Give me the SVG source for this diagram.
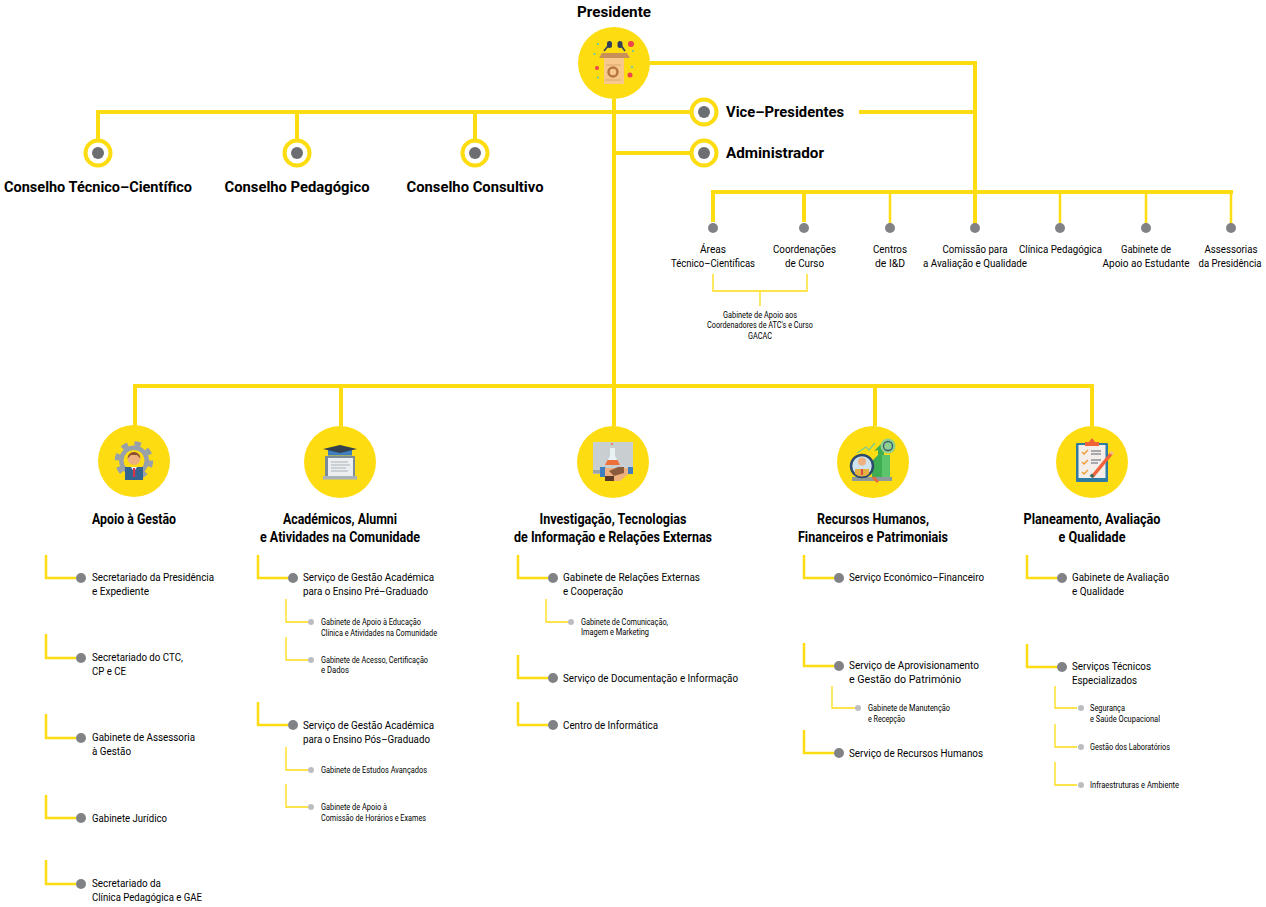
<svg xmlns="http://www.w3.org/2000/svg" width="1266" height="907" viewBox="0 0 1266 907">
<style>
text{font-family:"Roboto","Liberation Sans",sans-serif;fill:#000}
.h{font-weight:700;font-size:15.5px}
.m{font-size:11.5px}
.n{font-size:10px}
.s{font-size:8.5px}
.c{text-anchor:middle}
.y{fill:#fddc12}
.l{fill:none;stroke:#fddc12;stroke-width:4}
.t2{fill:none;stroke:#fddc12;stroke-width:2.5}
.t1{fill:none;stroke:#fddc12;stroke-width:1.3}
.d{fill:#6d6e71}
.g{fill:#808285}
.q{fill:#bcbdc0}
.r{fill:#fff;stroke:#fddc12;stroke-width:4}
</style>
<g id="connectors">
<path class="l" d="M650 63H975V192M859 112H975M98 140V112H690M297 140V112M475 140V112M614 99V386M616 153H690M713 222V192H1233M804 222V192M975 192V224M135 426V386H1092V426M341 426V386M614 386V426M875 386V426"/>
<path class="t2" d="M890 192V224M1060 192V224M1146 192V224M1231 192V224"/>
<path class="t1" d="M713 274V291H807V274M760 291V306"/>
<path class="t2" d="M46 555V578H76M46 634V658H76M46 714V738H76M46 795V818H76M46 860V884H76M258 555V578H288M258 702V725H288M518 555V578H548M518 655V678H548M518 702V725H548M804 555V578H834M804 643V666H834M804 730V753H834M1027 555V578H1057M1027 644V667H1057"/>
<path class="t1" d="M286 599V622H308M286 637V660H308M286 747V770H308M286 784V807H308M546 599V622H568M832 686V708H855M1055 686V708H1077M1055 724V747H1077M1055 762V785H1077"/>
</g>
<g id="presidente"><text class="h c" x="614" y="17" textLength="74" lengthAdjust="spacingAndGlyphs">Presidente</text><circle class="y" cx="614" cy="63" r="36"/>
<path d="M609.500 44L604 51M620 44L625 51" stroke="#2f3f5c" stroke-width="1.600" fill="none"/><rect x="607" y="41" width="5" height="7" rx="2.500" fill="#2f3f5c"/><rect x="617.500" y="41" width="5" height="7" rx="2.500" fill="#2f3f5c"/>
<path d="M602 53H627L630 58H599Z" fill="#c98f58"/><rect x="604" y="58" width="20" height="26" fill="#f6c88e"/>
<circle cx="613" cy="72" r="4.500" fill="none" stroke="#b5763f" stroke-width="2.500"/><path d="M606 65H621M605 80H621" stroke="#d9a870" stroke-width="1.200"/>
<circle cx="631" cy="44" r="3" fill="#f0414f"/><circle cx="630" cy="75" r="2.500" fill="#f0414f"/><circle cx="597" cy="68" r="2" fill="#f0414f"/>
<g fill="#4fc3c7"><circle cx="598" cy="44" r="1"/><circle cx="594.500" cy="54" r="1"/><circle cx="633" cy="51" r="1"/><circle cx="632" cy="67" r="1"/><circle cx="598" cy="77.500" r="1"/></g></g>
<g id="vice"><circle class="r" cx="704" cy="112" r="12.500"/><circle class="d" cx="704" cy="112" r="6"/><text class="h" x="726" y="117" textLength="118" lengthAdjust="spacingAndGlyphs">Vice–Presidentes</text></g>
<g id="admin"><circle class="r" cx="704" cy="153" r="12.500"/><circle class="d" cx="704" cy="153" r="6"/><text class="h" x="726" y="158" textLength="98" lengthAdjust="spacingAndGlyphs">Administrador</text></g>
<g id="ctc"><circle class="r" cx="98" cy="153" r="12.500"/><circle class="d" cx="98" cy="153" r="6"/><text class="h c" x="98" y="192" textLength="188" lengthAdjust="spacingAndGlyphs">Conselho Técnico–Científico</text></g>
<g id="cp"><circle class="r" cx="297" cy="153" r="12.500"/><circle class="d" cx="297" cy="153" r="6"/><text class="h c" x="297" y="192" textLength="145" lengthAdjust="spacingAndGlyphs">Conselho Pedagógico</text></g>
<g id="cc"><circle class="r" cx="475" cy="153" r="12.500"/><circle class="d" cx="475" cy="153" r="6"/><text class="h c" x="475" y="192" textLength="137" lengthAdjust="spacingAndGlyphs">Conselho Consultivo</text></g>
<g id="areas"><circle class="g" cx="713" cy="228" r="5"/><text class="m c" x="713" y="253" textLength="26" lengthAdjust="spacingAndGlyphs">Áreas</text><text class="m c" x="713" y="267" textLength="84" lengthAdjust="spacingAndGlyphs">Técnico–Científicas</text></g>
<g id="coord"><circle class="g" cx="804" cy="228" r="5"/><text class="m c" x="804.500" y="253" textLength="63" lengthAdjust="spacingAndGlyphs">Coordenações</text><text class="m c" x="804.500" y="267" textLength="39" lengthAdjust="spacingAndGlyphs">de Curso</text></g>
<g id="centros"><circle class="g" cx="890" cy="228" r="5"/><text class="m c" x="890" y="253" textLength="34" lengthAdjust="spacingAndGlyphs">Centros</text><text class="m c" x="890" y="267" textLength="30" lengthAdjust="spacingAndGlyphs">de I&amp;D</text></g>
<g id="comissao"><circle class="g" cx="975" cy="228" r="5"/><text class="m c" x="975" y="253" textLength="65" lengthAdjust="spacingAndGlyphs">Comissão para</text><text class="m c" x="975" y="267" textLength="104" lengthAdjust="spacingAndGlyphs">a Avaliação e Qualidade</text></g>
<g id="clinica"><circle class="g" cx="1060" cy="228" r="5"/><text class="m c" x="1060.500" y="253" textLength="83" lengthAdjust="spacingAndGlyphs">Clínica Pedagógica</text></g>
<g id="gae"><circle class="g" cx="1146" cy="228" r="5"/><text class="m c" x="1146" y="253" textLength="50" lengthAdjust="spacingAndGlyphs">Gabinete de</text><text class="m c" x="1146" y="267" textLength="87" lengthAdjust="spacingAndGlyphs">Apoio ao Estudante</text></g>
<g id="assess"><circle class="g" cx="1231" cy="228" r="5"/><text class="m c" x="1231" y="253" textLength="53" lengthAdjust="spacingAndGlyphs">Assessorias</text><text class="n c" x="1230" y="267" textLength="63" lengthAdjust="spacingAndGlyphs">da Presidência</text></g>
<g id="gacac"><text class="s c" x="760" y="318" textLength="74" lengthAdjust="spacingAndGlyphs">Gabinete de Apoio aos</text><text class="s c" x="760" y="328" textLength="106" lengthAdjust="spacingAndGlyphs">Coordenadores de ATC's e Curso</text><text class="s c" x="760" y="339" textLength="24" lengthAdjust="spacingAndGlyphs">GACAC</text></g>
<g id="apoio"><circle class="y" cx="134" cy="461" r="36"/><circle cx="134" cy="460.500" r="15" fill="#98a1ab"/><circle cx="134" cy="460.500" r="17" fill="none" stroke="#98a1ab" stroke-width="4.500" stroke-dasharray="6.500 6.850"/><circle cx="134" cy="460.500" r="10.500" fill="#fddc12"/><circle cx="134" cy="458.500" r="6.500" fill="#eeb07e"/><path d="M127.500 458.500A6.500 6.500 0 0 1 140.500 458.500L137 455H131Z" fill="#8a4f2b"/><rect x="125" y="467" width="18" height="13" fill="#34648f"/><path d="M131 467H137L134 472Z" fill="#fff"/><rect x="133" y="468" width="2.200" height="9" fill="#d9334c"/><text class="h c" x="134" y="524" textLength="84" lengthAdjust="spacingAndGlyphs">Apoio à Gestão</text></g>
<g id="academicos"><circle class="y" cx="340" cy="462" r="36"/><rect x="325" y="456" width="30" height="21" fill="#7a8b99"/><rect x="328" y="458" width="25" height="18" fill="#eceef0"/><path d="M331 462H348M331 465H350M331 468H346M331 471H348" stroke="#a9b2b8" stroke-width="1"/><rect x="323" y="476" width="34" height="3.500" fill="#a9b2b8"/><rect x="328" y="450" width="24" height="5.500" fill="#3f7fbf"/><path d="M323 449L340 445L357 449L340 453Z" fill="#33414f"/><text class="h c" x="340" y="524" textLength="114" lengthAdjust="spacingAndGlyphs">Académicos, Alumni</text><text class="h c" x="340" y="542" textLength="160" lengthAdjust="spacingAndGlyphs">e Atividades na Comunidade</text></g>
<g id="investigacao"><circle class="y" cx="613" cy="462" r="36"/><rect x="593" y="442" width="40" height="32" fill="#c9ced1"/><rect x="593" y="470" width="40" height="3.500" fill="#9aa3a6"/><path d="M610 448H615V456L620 465H605L610 456Z" fill="#e8f1f4"/><path d="M607.500 460H617.500L620 465H605Z" fill="#f0703a"/><circle cx="612" cy="444" r="1" fill="#f0703a"/><rect x="600" y="467" width="5.500" height="10" fill="#3f7fbf"/><rect x="628" y="467" width="5" height="7" fill="#3f7fbf"/><path d="M605 468H628V474L620 481H610L605 476Z" fill="#eeb07e"/><path d="M609 471L618 467H624V473L614 476Z" fill="#8c5a3c"/><rect x="605" y="476" width="9" height="5" fill="#5c3a28"/><text class="h c" x="613" y="524" textLength="147" lengthAdjust="spacingAndGlyphs">Investigação, Tecnologias</text><text class="h c" x="613" y="542" textLength="198" lengthAdjust="spacingAndGlyphs">de Informação e Relações Externas</text></g>
<g id="rh"><circle class="y" cx="873" cy="462" r="36"/><rect x="852" y="477" width="40" height="4" fill="#8f9a9b"/><path d="M872 477V461L878 455V450L874 451L882 443L887 451H884V477Z" fill="#3fae52"/><rect x="882" y="455" width="8" height="22" fill="#5cc46a"/><path d="M857 453L866 447L869 450L875 443" fill="none" stroke="#7ccf8f" stroke-width="1.300"/><circle cx="888" cy="446" r="7.500" fill="#8fd08f"/><circle cx="888" cy="446" r="4.500" fill="none" stroke="#3c5a6e" stroke-width="1.300"/><path d="M873 477L878 482" stroke="#e8683f" stroke-width="3"/><circle cx="862" cy="466" r="11" fill="#cfe3ee" stroke="#2c4a6e" stroke-width="2.500"/><circle cx="862" cy="461.500" r="4" fill="#eeb07e"/><path d="M855 474V469H869V474A11 11 0 0 1 855 474Z" fill="#e5b23f"/><rect x="861.200" y="469" width="1.600" height="6" fill="#d9334c"/><text class="h c" x="873" y="524" textLength="112" lengthAdjust="spacingAndGlyphs">Recursos Humanos,</text><text class="h c" x="873" y="542" textLength="150" lengthAdjust="spacingAndGlyphs">Financeiros e Patrimoniais</text></g>
<g id="planeamento"><circle class="y" cx="1092" cy="462" r="36"/><rect x="1076" y="443" width="32" height="39" rx="1" fill="#2e7ca3"/><rect x="1078.500" y="445" width="27" height="33" fill="#f3eeea"/><path d="M1085 446V442H1089L1092 438L1095 442H1099V446Z" fill="#f0623a"/><path d="M1092 477L1111 454" stroke="#f0623a" stroke-width="3.500"/><path d="M1111 454L1112.500 452" stroke="#f7b58f" stroke-width="3.500"/><path d="M1091 477L1093 474.500" stroke="#3f6b5c" stroke-width="3.500"/><path d="M1091 451H1101M1091 454H1101M1091 460H1101M1091 463H1098" stroke="#5c6470" stroke-width="1.200"/><path d="M1082 452L1084 454L1088 450M1082 462L1084 464L1088 460M1082 472L1084 474L1088 470" fill="none" stroke="#f09a2e" stroke-width="1.300"/><text class="h c" x="1092" y="524" textLength="137" lengthAdjust="spacingAndGlyphs">Planeamento, Avaliação</text><text class="h c" x="1092" y="542" textLength="67" lengthAdjust="spacingAndGlyphs">e Qualidade</text></g>
<g id="b1"><circle class="g" cx="81" cy="578" r="5"/><text class="m" x="92" y="581" textLength="122" lengthAdjust="spacingAndGlyphs">Secretariado da Presidência</text><text class="m" x="92" y="595" textLength="57" lengthAdjust="spacingAndGlyphs">e Expediente</text></g>
<g id="b2"><circle class="g" cx="81" cy="658" r="5"/><text class="m" x="92" y="661" textLength="91" lengthAdjust="spacingAndGlyphs">Secretariado do CTC,</text><text class="m" x="92" y="675" textLength="34" lengthAdjust="spacingAndGlyphs">CP e CE</text></g>
<g id="b3"><circle class="g" cx="81" cy="738" r="5"/><text class="m" x="92" y="741" textLength="103" lengthAdjust="spacingAndGlyphs">Gabinete de Assessoria</text><text class="m" x="92" y="755" textLength="39" lengthAdjust="spacingAndGlyphs">à Gestão</text></g>
<g id="b4"><circle class="g" cx="81" cy="818" r="5"/><text class="m" x="92" y="822" textLength="75" lengthAdjust="spacingAndGlyphs">Gabinete Jurídico</text></g>
<g id="b5"><circle class="g" cx="81" cy="884" r="5"/><text class="m" x="92" y="887" textLength="69" lengthAdjust="spacingAndGlyphs">Secretariado da</text><text class="m" x="92" y="901" textLength="110" lengthAdjust="spacingAndGlyphs">Clínica Pedagógica e GAE</text></g>
<g id="c1"><circle class="g" cx="293" cy="578" r="5"/><text class="m" x="303" y="581" textLength="131" lengthAdjust="spacingAndGlyphs">Serviço de Gestão Académica</text><text class="m" x="303" y="595" textLength="125" lengthAdjust="spacingAndGlyphs">para o Ensino Pré–Graduado</text></g>
<g id="c2"><circle class="q" cx="311" cy="622" r="3"/><text class="s" x="321" y="625" textLength="100" lengthAdjust="spacingAndGlyphs">Gabinete de Apoio à Educação</text><text class="s" x="321" y="636" textLength="116" lengthAdjust="spacingAndGlyphs">Clínica e Atividades na Comunidade</text></g>
<g id="c3"><circle class="q" cx="311" cy="660" r="3"/><text class="s" x="321" y="663" textLength="107" lengthAdjust="spacingAndGlyphs">Gabinete de Acesso, Certificação</text><text class="s" x="321" y="673" textLength="28" lengthAdjust="spacingAndGlyphs">e Dados</text></g>
<g id="c4"><circle class="g" cx="293" cy="725" r="5"/><text class="m" x="303" y="729" textLength="131" lengthAdjust="spacingAndGlyphs">Serviço de Gestão Académica</text><text class="m" x="303" y="743" textLength="127" lengthAdjust="spacingAndGlyphs">para o Ensino Pós–Graduado</text></g>
<g id="c5"><circle class="q" cx="311" cy="770" r="3"/><text class="s" x="321" y="773" textLength="106" lengthAdjust="spacingAndGlyphs">Gabinete de Estudos Avançados</text></g>
<g id="c6"><circle class="q" cx="311" cy="807" r="3"/><text class="s" x="321" y="810" textLength="66" lengthAdjust="spacingAndGlyphs">Gabinete de Apoio à</text><text class="s" x="321" y="821" textLength="105" lengthAdjust="spacingAndGlyphs">Comissão de Horários e Exames</text></g>
<g id="d1"><circle class="g" cx="553" cy="578" r="5"/><text class="m" x="563" y="581" textLength="137" lengthAdjust="spacingAndGlyphs">Gabinete de Relações Externas</text><text class="m" x="563" y="595" textLength="60" lengthAdjust="spacingAndGlyphs">e Cooperação</text></g>
<g id="d2"><circle class="q" cx="571" cy="622" r="3"/><text class="s" x="581" y="625" textLength="87" lengthAdjust="spacingAndGlyphs">Gabinete de Comunicação,</text><text class="s" x="581" y="635" textLength="68" lengthAdjust="spacingAndGlyphs">Imagem e Marketing</text></g>
<g id="d3"><circle class="g" cx="553" cy="678" r="5"/><text class="m" x="563" y="682" textLength="175" lengthAdjust="spacingAndGlyphs">Serviço de Documentação e Informação</text></g>
<g id="d4"><circle class="g" cx="553" cy="725" r="5"/><text class="m" x="563" y="729" textLength="95" lengthAdjust="spacingAndGlyphs">Centro de Informática</text></g>
<g id="e1"><circle class="g" cx="839" cy="578" r="5"/><text class="m" x="849" y="581" textLength="135" lengthAdjust="spacingAndGlyphs">Serviço Económico–Financeiro</text></g>
<g id="e2"><circle class="g" cx="839" cy="666" r="5"/><text class="m" x="849" y="669" textLength="130" lengthAdjust="spacingAndGlyphs">Serviço de Aprovisionamento</text><text class="m" x="849" y="683" textLength="112" lengthAdjust="spacingAndGlyphs">e Gestão do Património</text></g>
<g id="e3"><circle class="q" cx="858" cy="708" r="3"/><text class="s" x="868" y="711" textLength="82" lengthAdjust="spacingAndGlyphs">Gabinete de Manutenção</text><text class="s" x="868" y="722" textLength="37" lengthAdjust="spacingAndGlyphs">e Recepção</text></g>
<g id="e4"><circle class="g" cx="839" cy="753" r="5"/><text class="m" x="849" y="757" textLength="134" lengthAdjust="spacingAndGlyphs">Serviço de Recursos Humanos</text></g>
<g id="f1"><circle class="g" cx="1062" cy="578" r="5"/><text class="m" x="1072" y="581" textLength="97" lengthAdjust="spacingAndGlyphs">Gabinete de Avaliação</text><text class="m" x="1072" y="595" textLength="52" lengthAdjust="spacingAndGlyphs">e Qualidade</text></g>
<g id="f2"><circle class="g" cx="1062" cy="667" r="5"/><text class="m" x="1072" y="670" textLength="79" lengthAdjust="spacingAndGlyphs">Serviços Técnicos</text><text class="m" x="1072" y="684" textLength="65" lengthAdjust="spacingAndGlyphs">Especializados</text></g>
<g id="f3"><circle class="q" cx="1081" cy="708" r="3"/><text class="s" x="1090" y="711" textLength="35" lengthAdjust="spacingAndGlyphs">Segurança</text><text class="s" x="1090" y="722" textLength="70" lengthAdjust="spacingAndGlyphs">e Saúde Ocupacional</text></g>
<g id="f4"><circle class="q" cx="1081" cy="747" r="3"/><text class="s" x="1090" y="750" textLength="80" lengthAdjust="spacingAndGlyphs">Gestão dos Laboratórios</text></g>
<g id="f5"><circle class="q" cx="1081" cy="785" r="3"/><text class="s" x="1090" y="788" textLength="89" lengthAdjust="spacingAndGlyphs">Infraestruturas e Ambiente</text></g>
</svg>
